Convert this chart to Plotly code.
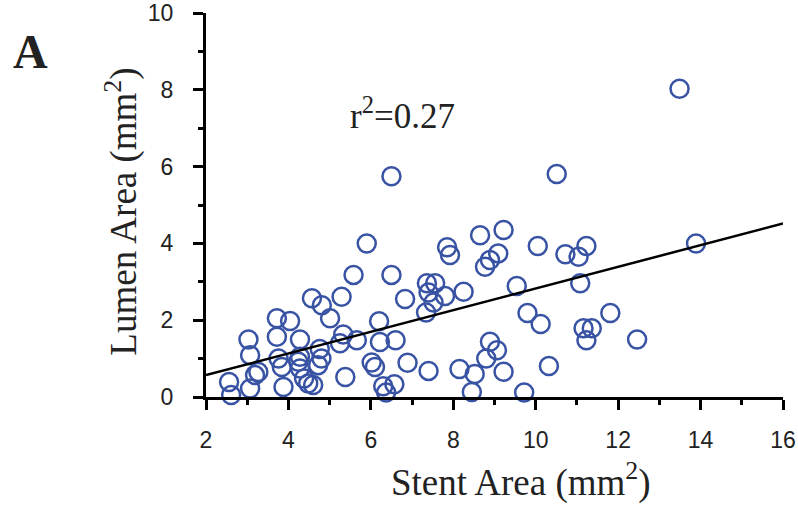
import numpy as np
import plotly.graph_objects as go

# Stent area (mm^2) vs lumen area (mm^2)
stent_area = [2.56, 2.61, 3.03, 3.07, 3.07, 3.19, 3.27, 3.72, 3.72, 3.76, 3.84, 3.88,
              4.04, 4.28, 4.24, 4.28, 4.28, 4.38, 4.48, 4.60, 4.57, 4.81, 4.76, 4.80,
              4.72, 5.01, 5.29, 5.33, 5.25, 5.38, 5.58, 5.66, 5.90, 6.20, 6.22, 6.02,
              6.10, 6.30, 6.37, 6.50, 6.50, 6.57, 6.60, 6.83, 6.89, 7.36, 7.56, 7.40,
              7.52, 7.34, 7.80, 7.85, 7.92, 8.25, 7.40, 8.15, 8.52, 8.45, 8.65, 9.22,
              8.77, 8.89, 9.09, 8.89, 9.06, 8.80, 9.22, 9.54, 9.80, 10.12, 9.72, 10.32,
              10.51, 10.05, 10.72, 11.04, 11.23, 11.08, 11.16, 11.36, 11.23, 11.81,
              12.46, 13.49, 13.89]
lumen_area = [0.39, 0.05, 1.50, 1.09, 0.22, 0.57, 0.65, 2.05, 1.57, 1.00, 0.78, 0.26,
              1.98, 1.50, 0.92, 0.74, 1.05, 0.48, 0.35, 0.31, 2.57, 2.39, 1.25, 1.00,
              0.83, 2.05, 2.61, 1.63, 1.40, 0.52, 3.18, 1.48, 4.00, 1.97, 1.43, 0.90,
              0.78, 0.28, 0.12, 3.18, 5.75, 0.33, 1.48, 2.55, 0.89, 2.96, 2.96, 2.72,
              2.46, 2.20, 2.63, 3.90, 3.70, 2.74, 0.68, 0.73, 0.60, 0.13, 4.21, 4.35,
              3.39, 3.57, 3.74, 1.44, 1.22, 1.00, 0.66, 2.89, 2.19, 1.90, 0.12, 0.81,
              5.81, 3.93, 3.72, 3.65, 3.93, 2.96, 1.79, 1.79, 1.48, 2.19,
              1.50, 8.03, 4.00]

fit_slope = 0.282
fit_intercept = 0.006
fit_x = [2, 16]
fit_y = [fit_intercept + fit_slope * v for v in fit_x]

x_ticks = [2, 4, 6, 8, 10, 12, 14, 16]
y_ticks = [0, 2, 4, 6, 8, 10]

blue = "#3953a4"
serif = "Liberation Serif, Times New Roman, serif"
sans = "Liberation Sans, Arial, sans-serif"

fig = go.Figure()
fig.add_trace(go.Scatter(
    x=stent_area, y=lumen_area, mode="markers",
    marker=dict(symbol="circle-open", size=18, color=blue, line=dict(width=2.5, color=blue)),
    cliponaxis=False, showlegend=False,
))
fig.add_trace(go.Scatter(
    x=fit_x, y=fit_y, mode="lines",
    line=dict(color="black", width=2.5), cliponaxis=False, showlegend=False,
))

axis_common = dict(
    showline=True, linecolor="black", linewidth=3, showgrid=False, zeroline=False,
    automargin=False,
    ticks="outside", tickcolor="black", tickwidth=3, ticklen=10,
    tickfont=dict(family=sans, size=23, color="#222"),
    minor=dict(ticks="outside", ticklen=5, tickwidth=3, tickcolor="black", dtick=1, showgrid=False),
)

fig.update_xaxes(range=[2, 16], tickvals=x_ticks, ticktext=[str(v) for v in x_ticks],
                 ticklabelstandoff=10, **axis_common)
fig.update_yaxes(range=[0, 10], tickvals=y_ticks, ticktext=[str(v) for v in y_ticks],
                 ticklabelstandoff=15, **axis_common)

fig.update_layout(
    width=798, height=505,
    margin=dict(l=206, r=15, t=13, b=108),
    plot_bgcolor="white", paper_bgcolor="white",
    annotations=[
        dict(text="Stent Area (mm<sup>2</sup>)", xref="paper", yref="paper",
             x=0.546, y=-0.215, showarrow=False, xanchor="center", yanchor="middle",
             font=dict(family=serif, size=37, color="#222")),
        dict(text="Lumen Area (mm<sup>2</sup>)", xref="paper", yref="paper",
             x=-0.146, y=0.482, showarrow=False, xanchor="center", yanchor="middle",
             textangle=-90, font=dict(family=serif, size=37, color="#222")),
        dict(text="<b>A</b>", xref="paper", yref="paper",
             x=-0.305, y=0.899, showarrow=False, xanchor="center", yanchor="middle",
             font=dict(family=serif, size=48, color="#222")),
        dict(text="r<sup>2</sup>=0.27", xref="paper", yref="paper",
             x=0.340, y=0.738, showarrow=False, xanchor="center", yanchor="middle",
             font=dict(family=serif, size=35, color="#222")),
    ],
)

fig.write_html("out.html", config={"displayModeBar": False},
               post_script="document.body.style.margin='0';")
